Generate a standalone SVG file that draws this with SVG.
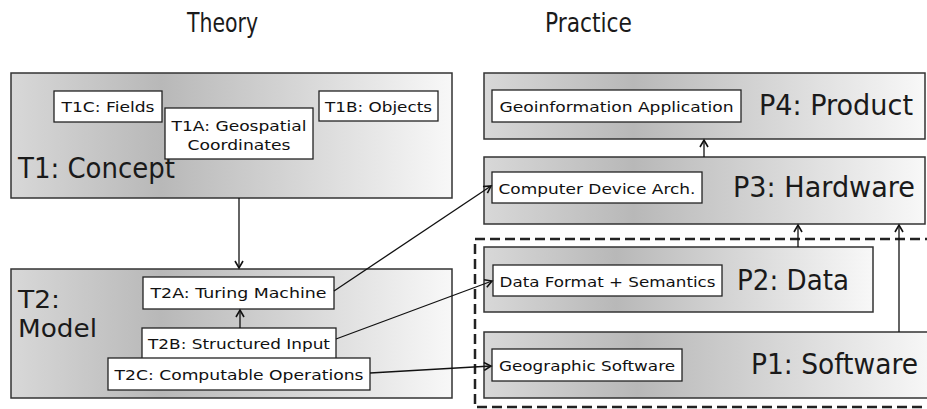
<svg xmlns="http://www.w3.org/2000/svg" width="927" height="409" viewBox="0 0 927 409">
<defs>
<linearGradient id="g" x1="0" y1="0" x2="1" y2="0">
<stop offset="0" stop-color="#d8d8d8"/>
<stop offset="0.34" stop-color="#b8b8b8"/>
<stop offset="1" stop-color="#f8f8f8"/>
</linearGradient>
<marker id="ah" markerWidth="10" markerHeight="10" refX="8" refY="5" orient="auto" markerUnits="userSpaceOnUse">
<path d="M1,1 L8,5 L1,9" fill="none" stroke="#111" stroke-width="1.6"/>
</marker>
</defs>
<style>
.box{fill:url(#g);stroke:#333;stroke-width:1.5}
.lbl{fill:#fff;stroke:#222;stroke-width:1.3}
.big{font-family:"Liberation Sans Narrow","DejaVu Sans Condensed","Liberation Sans",sans-serif;fill:#1a1a1a}
.sm{font-family:"DejaVu Sans","Liberation Sans",sans-serif;font-size:14px;fill:#111;text-anchor:middle}
.con{stroke:#111;stroke-width:1.3;fill:none;marker-end:url(#ah)}
</style>
<rect width="927" height="409" fill="#fff"/>
<text class="big" x="187" y="32" font-size="27" textLength="71" lengthAdjust="spacingAndGlyphs">Theory</text>
<text class="big" x="545" y="32" font-size="27" textLength="87" lengthAdjust="spacingAndGlyphs">Practice</text>

<g id="T1">
<rect class="box" x="11" y="73" width="441" height="125"/>
<text class="big" x="18" y="178" font-size="28" textLength="157" lengthAdjust="spacingAndGlyphs">T1: Concept</text>
</g>
<g id="T1C">
<rect class="lbl" x="54" y="91" width="108" height="31"/>
<text class="sm" x="108" y="112" textLength="93" lengthAdjust="spacingAndGlyphs">T1C: Fields</text>
</g>
<g id="T1B">
<rect class="lbl" x="319" y="91" width="119" height="30"/>
<text class="sm" x="378.5" y="112" textLength="107" lengthAdjust="spacingAndGlyphs">T1B: Objects</text>
</g>
<g id="T1A">
<rect class="lbl" x="165" y="108" width="148" height="51"/>
<text class="sm" x="239" y="131" textLength="135" lengthAdjust="spacingAndGlyphs">T1A: Geospatial</text>
<text class="sm" x="239" y="150" textLength="103" lengthAdjust="spacingAndGlyphs">Coordinates</text>
</g>

<g id="T2">
<rect class="box" x="11" y="269" width="441" height="129"/>
<text class="big" x="18" y="308" font-size="25" textLength="42" lengthAdjust="spacingAndGlyphs">T2:</text>
<text class="big" x="18" y="337" font-size="25" textLength="79" lengthAdjust="spacingAndGlyphs">Model</text>
</g>
<g id="T2A">
<rect class="lbl" x="143" y="277" width="191" height="32"/>
<text class="sm" x="238.5" y="298" textLength="176" lengthAdjust="spacingAndGlyphs">T2A: Turing Machine</text>
</g>
<g id="T2B">
<rect class="lbl" x="142" y="328" width="194" height="31"/>
<text class="sm" x="239" y="349" textLength="182" lengthAdjust="spacingAndGlyphs">T2B: Structured Input</text>
</g>
<g id="T2C">
<rect class="lbl" x="108" y="358" width="262" height="32"/>
<text class="sm" x="239" y="380" textLength="249" lengthAdjust="spacingAndGlyphs">T2C: Computable Operations</text>
</g>

<g id="P4">
<rect class="box" x="484" y="73" width="441" height="66"/>
<rect class="lbl" x="492" y="90" width="249" height="32"/>
<text class="sm" x="616.5" y="112" textLength="234" lengthAdjust="spacingAndGlyphs">Geoinformation Application</text>
<text class="big" x="759" y="115" font-size="28" textLength="154" lengthAdjust="spacingAndGlyphs">P4: Product</text>
</g>
<g id="P3">
<rect class="box" x="484" y="157" width="441" height="67"/>
<rect class="lbl" x="492" y="172" width="210" height="31"/>
<text class="sm" x="597" y="194" textLength="197" lengthAdjust="spacingAndGlyphs">Computer Device Arch.</text>
<text class="big" x="733" y="197" font-size="28" textLength="182" lengthAdjust="spacingAndGlyphs">P3: Hardware</text>
</g>
<g id="P2">
<rect class="box" x="484" y="247" width="389" height="65"/>
<rect class="lbl" x="493" y="265" width="229" height="31"/>
<text class="sm" x="607.5" y="287" textLength="216" lengthAdjust="spacingAndGlyphs">Data Format + Semantics</text>
<text class="big" x="737" y="290" font-size="28" textLength="112" lengthAdjust="spacingAndGlyphs">P2: Data</text>
</g>
<g id="P1">
<rect class="box" x="484" y="332" width="450" height="66"/>
<rect class="lbl" x="492" y="349" width="190" height="32"/>
<text class="sm" x="587" y="371" textLength="176" lengthAdjust="spacingAndGlyphs">Geographic Software</text>
<text class="big" x="751" y="374" font-size="28" textLength="167" lengthAdjust="spacingAndGlyphs">P1: Software</text>
</g>

<g id="connectors">
<path d="M935,239 H475 V407 H935" fill="none" stroke="#222" stroke-width="2.5" stroke-dasharray="10 5"/>
<line class="con" x1="239" y1="198" x2="239" y2="268"/>
<line class="con" x1="240" y1="328" x2="240" y2="310"/>
<line class="con" x1="334" y1="291" x2="491" y2="186"/>
<line class="con" x1="336" y1="339" x2="492" y2="281"/>
<line class="con" x1="370" y1="373" x2="491" y2="366"/>
<line class="con" x1="704" y1="157" x2="704" y2="140"/>
<line class="con" x1="798" y1="247" x2="798" y2="225"/>
<line class="con" x1="899" y1="332" x2="899" y2="225"/>
</g>
</svg>
